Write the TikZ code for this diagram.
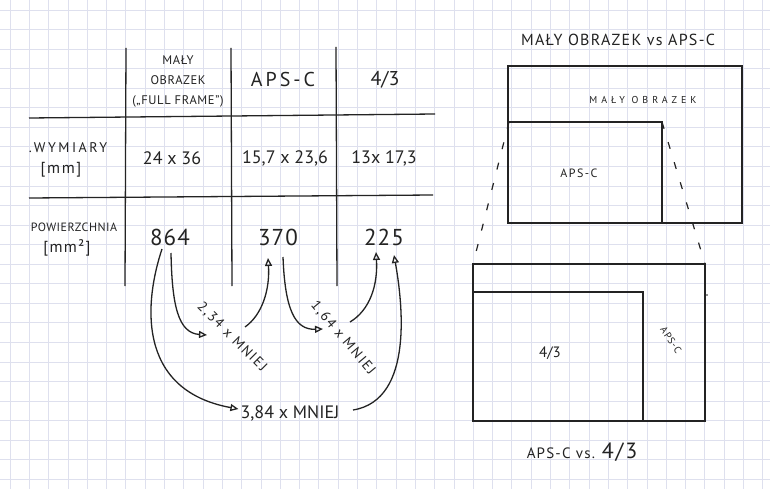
\documentclass[tikz,border=0pt]{standalone}
\usepackage{fontspec}
\setmainfont{PT Sans}
\usetikzlibrary{arrows.meta}
\definecolor{gridc}{RGB}{222,224,238}
\definecolor{inkc}{RGB}{35,35,35}
\tikzset{
  gridline/.style={draw=gridc, line width=0.8pt},
  inkline/.style={draw=inkc, line width=1.3pt},
  lbl/.style={inner sep=0pt, text=inkc, anchor=center},
  tip/.style={-{Triangle[open,length=8pt,width=7pt]}},
  dashline/.style={draw=inkc, line width=1.2pt, dash pattern=on 7pt off 14pt}
}
\newcommand{\fs}[1]{\fontsize{#1}{#1}\selectfont}
\begin{document}
\begin{tikzpicture}[x=1pt,y=-1pt]
\useasboundingbox (0,0) rectangle (770,489);
\fill[white] (0,0) rectangle (770,489);
% grid paper
\foreach \i in {0,...,39} \draw[gridline] ({10+19.3*\i},0) -- ({10+19.3*\i},489);
\foreach \j in {0,...,24} \draw[gridline] (0,{10+19.55*\j}) -- (770,{10+19.55*\j});

% ---------------- table ----------------
\draw[inkline] (126,48) -- (125,286);
\draw[inkline] (231,48) -- (232,286);
\draw[inkline] (336,47) -- (337,286);
\draw[inkline] (29,118) -- (435,114);
\draw[inkline] (29,198) -- (433,195);

\node[lbl, align=center, font=\fontsize{12.5}{20}\selectfont\addfontfeature{LetterSpace=5}] (hff) at (178,81) {MAŁY\\OBRAZEK\\(„FULL FRAME”)};
\node[lbl, font=\fs{20}\addfontfeature{LetterSpace=15}] (haps) at (283,80) {APS-C};
\node[lbl, font=\fs{20}] (h43) at (385,80) {4/3};

\node[lbl, font=\fs{14}\addfontfeature{LetterSpace=18}] (lwym) at (68,148) {.WYMIARY};
\node[lbl, font=\fs{16}\addfontfeature{LetterSpace=10}] (lwymu) at (61,170) {[mm]};
\node[lbl, font=\fs{18}] (dff) at (172,158) {24 x 36};
\node[lbl, font=\fs{18}] (daps) at (285,158) {15,7 x 23,6};
\node[lbl, font=\fs{18}] (d43) at (384,158) {13x 17,3};

\node[lbl, font=\fs{12}\addfontfeature{LetterSpace=4}] (lpow) at (74,227) {POWIERZCHNIA};
\node[lbl, font=\fs{16}\addfontfeature{LetterSpace=8}] (lpowu) at (67,248) {[mm²]};
\node[lbl, font=\fs{23}\addfontfeature{LetterSpace=5}] (n864) at (170,237) {864};
\node[lbl, font=\fs{23}\addfontfeature{LetterSpace=5}] (n370) at (278,237) {370};
\node[lbl, font=\fs{23}\addfontfeature{LetterSpace=5}] (n225) at (384,237) {225};

% ratio labels
\node[lbl, font=\fs{14}\addfontfeature{LetterSpace=12}, rotate=-45] (r234) at (232,337) {2,34 x MNIEJ};
\node[lbl, font=\fs{14}\addfontfeature{LetterSpace=12}, rotate=-50] (r164) at (343,338) {1,64 x MNIEJ};
\node[lbl, font=\fs{18}] (r384) at (290,413) {3,84 x MNIEJ};

% arrow end points
\coordinate (s864a) at (162,249);
\coordinate (s864b) at (171,253);
\coordinate (e234) at (207,335);
\coordinate (s234) at (245,327);
\coordinate (e370) at (268,258);
\coordinate (s370) at (283,257);
\coordinate (e164) at (323,329);
\coordinate (s164) at (350,322);
\coordinate (e225a) at (376,252);
\coordinate (s384) at (353,410);
\coordinate (e225b) at (394,255);

\draw[inkline,tip] (s864a) .. controls (145,300) and (135,390) .. ([xshift=-2pt,yshift=4pt]r384.west);
\draw[inkline,tip] (s864b) .. controls (172,305) and (178,333) .. (e234);
\draw[inkline,tip] (s234) .. controls (262,315) and (270,290) .. (e370);
\draw[inkline,tip] (s370) .. controls (285,310) and (295,330) .. (e164);
\draw[inkline,tip] (s164) .. controls (370,310) and (378,285) .. (e225a);
\draw[inkline,tip] (s384) .. controls (415,400) and (402,300) .. (e225b);

% ---------------- right: full frame vs APS-C ----------------
\node[lbl, font=\fs{16}\addfontfeature{LetterSpace=8}] (t1) at (618,40) {MAŁY OBRAZEK vs APS-C};
\coordinate (ffnw) at (508,66);
\coordinate (ffse) at (742,223);
\coordinate (apsnw) at (509,122);
\coordinate (apsne) at (662,122);
\draw[inkline] (ffnw) rectangle (ffse);
\draw[inkline] (apsnw) -- (apsne) -- (662,223);
\node[lbl, font=\fs{10}\addfontfeature{LetterSpace=40}] (lff) at (643,100) {MAŁY OBRAZEK};
\node[lbl, font=\fs{12}\addfontfeature{LetterSpace=12}] (laps) at (579,173) {APS-C};

% ---------------- right: APS-C vs 4/3 ----------------
\coordinate (cnw) at (473,264);
\coordinate (cne) at (705,264);
\coordinate (cse) at (705,421);
\coordinate (dnw) at (473,292);
\draw[inkline] (cnw) rectangle (cse);
\draw[inkline] (dnw) -- (643,292) -- (643,421);
\draw[dashline] (apsnw) -- (cnw);
\draw[dashline] (apsne) -- (cne);
\fill[inkc] (707,295) circle (0.9pt);
\node[lbl, font=\fs{15}] (l43) at (550,353) {4/3};
\node[lbl, font=\fs{10}\addfontfeature{LetterSpace=10}, rotate=-57] (laps2) at (671,340) {APS-C};
\node[lbl, anchor=base] (t2) at (582,458) {\fs{15}\addfontfeature{LetterSpace=8}APS-C vs. \fs{22}4/3};
\end{tikzpicture}
\end{document}
